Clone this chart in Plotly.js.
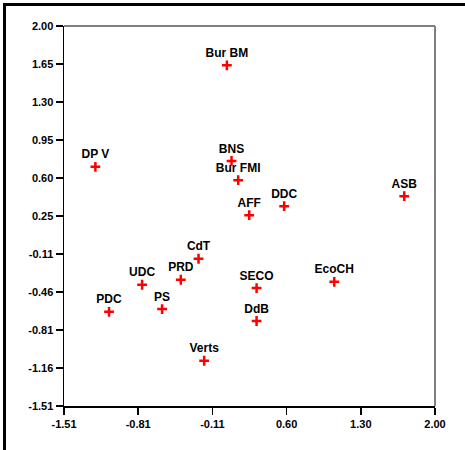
<!DOCTYPE html>
<html>
<head>
<meta charset="utf-8">
<script src="https://cdn.plot.ly/plotly-3.0.1.min.js"></script>
<style>
  html, body { margin: 0; padding: 0; background: #fff; }
  #wrap { position: relative; width: 465px; height: 450px; }
  #chart { position: absolute; left: 0; top: 0; width: 465px; height: 450px; }
  #frame { position: absolute; left: 3px; top: 3px; width: 470px; height: 444px;
           border-left: 3px solid #000; border-top: 3px solid #000; border-bottom: 3px solid #000;
           pointer-events: none; }
</style>
</head>
<body>
<div id="wrap">
  <div id="chart"></div>
  <div id="frame"></div>
</div>
<script>
const labels = ["Bur BM","DP V","BNS","Bur FMI","AFF","DDC","ASB","CdT","UDC","PRD","SECO","EcoCH","PDC","PS","DdB","Verts"];
const xVals  = [0.031, -1.213, 0.075, 0.138, 0.242, 0.573, 1.709, -0.237, -0.771, -0.405, 0.312, 1.047, -1.084, -0.582, 0.312, -0.184];
const yVals  = [1.637, 0.699, 0.754, 0.576, 0.253, 0.336, 0.428, -0.150, -0.390, -0.344, -0.421, -0.363, -0.640, -0.615, -0.725, -1.092];

const xTickText = ["-1.51","-0.81","-0.11","0.60","1.30","2.00"];
const yTickText = ["-1.51","-1.16","-0.81","-0.46","-0.11","0.25","0.60","0.95","1.30","1.65","2.00"];
const xMin = -1.51, xMax = 2.00, yMin = -1.51, yMax = 2.00;

const xTickVals = xTickText.map((t, i) => xMin + i * (xMax - xMin) / (xTickText.length - 1));
const yTickVals = yTickText.map((t, i) => yMin + i * (yMax - yMin) / (yTickText.length - 1));

const font = "Liberation Sans, Arial, sans-serif";

const trace = {
  type: "scatter",
  mode: "markers+text",
  x: xVals,
  y: yVals,
  text: labels.map(s => "<b>" + s + "</b>"),
  textposition: "top center",
  textfont: { family: font, size: 12, color: "#000" },
  marker: { symbol: "cross-thin-open", size: 7, color: "#ff0000", line: { color: "#ff0000", width: 2.5 } },
  cliponaxis: false,
  hoverinfo: "none"
};

const layout = {
  width: 465,
  height: 450,
  margin: { l: 64, r: 30, t: 26, b: 44, pad: 0 },
  paper_bgcolor: "#fff",
  plot_bgcolor: "#fff",
  showlegend: false,
  font: { family: font, color: "#000" },
  xaxis: {
    range: [xMin, xMax],
    tickmode: "array",
    tickvals: xTickVals,
    ticktext: xTickText.map(s => "<b>" + s + "</b>"),
    ticks: "outside",
    ticklen: 7,
    tickwidth: 1.5,
    tickcolor: "#000",
    showline: true,
    linecolor: "#000",
    linewidth: 1.5,
    showgrid: false,
    zeroline: false,
    tickfont: { family: font, size: 11, color: "#000" },
    fixedrange: true
  },
  yaxis: {
    range: [yMin, yMax],
    tickmode: "array",
    tickvals: yTickVals,
    ticktext: yTickText.map(s => "<b>" + s + "</b>"),
    ticks: "outside",
    ticklen: 7,
    tickwidth: 1.5,
    tickcolor: "#000",
    showline: true,
    linecolor: "#000",
    linewidth: 1.5,
    showgrid: false,
    zeroline: false,
    tickfont: { family: font, size: 11, color: "#000" },
    fixedrange: true
  },
  shapes: [
    { type: "line", xref: "paper", yref: "paper", x0: 0, x1: 1, y0: 1, y1: 1, line: { color: "#808080", width: 2 } },
    { type: "line", xref: "paper", yref: "paper", x0: 1, x1: 1, y0: 0, y1: 1, line: { color: "#808080", width: 2 } }
  ]
};

Plotly.newPlot("chart", [trace], layout, { displayModeBar: false, staticPlot: true });
</script>
</body>
</html>
